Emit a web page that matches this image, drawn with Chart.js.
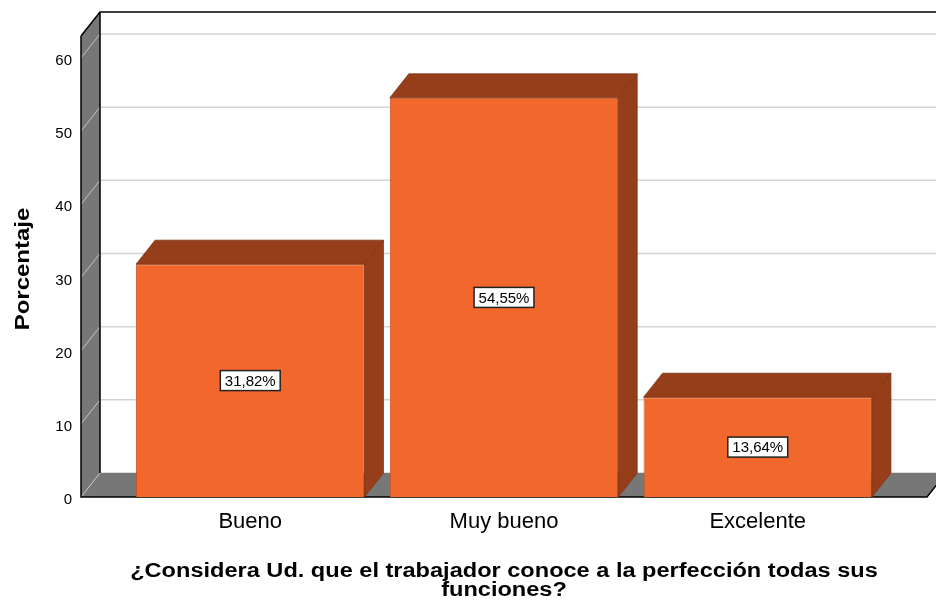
<!DOCTYPE html>
<html>
<head>
<meta charset="utf-8">
<script src="https://cdn.jsdelivr.net/npm/chart.js@4.4.1/dist/chart.umd.min.js"></script>
<style>
  body { margin: 0; background: #fff; }
  #wrap { width: 936px; height: 604px; }
</style>
</head>
<body>
<div id="wrap"><canvas id="chart" width="936" height="604"></canvas></div>
<script>
const categories = ["Bueno", "Muy bueno", "Excelente"];
const percentages = [31.82, 54.55, 13.64];
const yTicks = [0, 10, 20, 30, 40, 50, 60];
const xTitle = ["¿Considera Ud. que el trabajador conoce a la perfección todas sus", "funciones?"];
const yTitle = "Porcentaje";

const FONT = "'Liberation Sans', Arial, sans-serif";
const DX = 19, DY = -24; // depth of the 3D box

const box3d = {
  id: "box3d",
  beforeDatasetsDraw(chart) {
    const { ctx, chartArea: a, scales } = chart;
    const L = a.left, R = a.right, T = a.top, B = a.bottom;
    ctx.save();
    // back wall grid
    ctx.strokeStyle = "#d3d3d3";
    ctx.lineWidth = 1.5;
    yTicks.forEach(v => {
      const yp = scales.y.getPixelForValue(v);
      ctx.beginPath();
      ctx.moveTo(L + DX, yp + DY);
      ctx.lineTo(R + DX + 20, yp + DY);
      ctx.stroke();
    });
    // left wall
    ctx.fillStyle = "#777777";
    ctx.beginPath();
    ctx.moveTo(L, B); ctx.lineTo(L + DX, B + DY); ctx.lineTo(L + DX, T + DY); ctx.lineTo(L, T);
    ctx.closePath(); ctx.fill();
    // floor
    ctx.beginPath();
    ctx.moveTo(L, B); ctx.lineTo(R, B); ctx.lineTo(R + DX, B + DY); ctx.lineTo(L + DX, B + DY);
    ctx.closePath(); ctx.fill();
    // grid on left wall
    ctx.strokeStyle = "#c4c4c4";
    ctx.lineWidth = 1;
    yTicks.forEach(v => {
      const yp = scales.y.getPixelForValue(v);
      ctx.beginPath();
      ctx.moveTo(L, yp);
      ctx.lineTo(L + DX, yp + DY);
      ctx.stroke();
    });
    // outlines
    ctx.strokeStyle = "#000";
    ctx.lineWidth = 1.5;
    ctx.beginPath();
    ctx.moveTo(L, T); ctx.lineTo(L, B); ctx.lineTo(R, B); ctx.lineTo(R + DX, B + DY);
    ctx.moveTo(L, T); ctx.lineTo(L + DX, T + DY); ctx.lineTo(R + DX + 20, T + DY);
    ctx.moveTo(L + DX, T + DY); ctx.lineTo(L + DX, B + DY);
    ctx.stroke();
    ctx.restore();
  },
  afterDatasetsDraw(chart) {
    const { ctx } = chart;
    const meta = chart.getDatasetMeta(0);
    ctx.save();
    meta.data.forEach((bar, i) => {
      const { x, y, base, width } = bar.getProps(["x", "y", "base", "width"], true);
      const l = x - width / 2, r = x + width / 2;
      ctx.fillStyle = "#963e19";
      ctx.strokeStyle = "#7c3314";
      ctx.lineWidth = 0.8;
      ctx.beginPath();
      ctx.moveTo(l, y); ctx.lineTo(l + DX, y + DY); ctx.lineTo(r + DX, y + DY); ctx.lineTo(r, y);
      ctx.closePath(); ctx.fill(); ctx.stroke();
      ctx.beginPath();
      ctx.moveTo(r, y); ctx.lineTo(r + DX, y + DY); ctx.lineTo(r + DX, base + DY); ctx.lineTo(r, base);
      ctx.closePath(); ctx.fill(); ctx.stroke();

      const txt = percentages[i].toFixed(2).replace(".", ",") + "%";
      ctx.font = "15px " + FONT;
      const w = ctx.measureText(txt).width + 9, h = 20;
      const cy = (y + base) / 2;
      ctx.fillStyle = "#fff";
      ctx.fillRect(x - w / 2, cy - h / 2, w, h);
      ctx.strokeStyle = "#222";
      ctx.lineWidth = 1.5;
      ctx.strokeRect(x - w / 2, cy - h / 2, w, h);
      ctx.fillStyle = "#000";
      ctx.textAlign = "center";
      ctx.textBaseline = "middle";
      ctx.fillText(txt, x, cy + 1);
    });
    ctx.restore();
  },
  afterDraw(chart) {
    // axis titles, slightly stretched along the text like the original export
    const { ctx, chartArea: a } = chart;
    const cx = (a.left + a.right) / 2;
    ctx.save();
    ctx.fillStyle = "#000";
    ctx.font = "bold 20px " + FONT;
    ctx.textAlign = "center";
    ctx.textBaseline = "alphabetic";
    [577, 596].forEach((by, k) => {
      ctx.save();
      ctx.translate(cx, by);
      ctx.scale(1.178, 1);
      ctx.fillText(xTitle[k], 0, 0);
      ctx.restore();
    });
    ctx.translate(29, 269);
    ctx.rotate(-Math.PI / 2);
    ctx.scale(1.2, 1);
    ctx.fillText(yTitle, 0, 0);
    ctx.restore();
  }
};

new Chart(document.getElementById("chart"), {
  type: "bar",
  data: {
    datasets: [{
      data: categories.map((c, i) => ({ x: i, y: percentages[i] })),
      backgroundColor: "#f2672b",
      borderColor: "#c9531f",
      borderWidth: 1,
      categoryPercentage: 1,
      barPercentage: 0.9
    }]
  },
  plugins: [box3d],
  options: {
    responsive: false,
    animation: false,
    layout: { padding: { top: 36, right: 9, left: 0, bottom: 0 } },
    plugins: { legend: { display: false }, tooltip: { enabled: false } },
    scales: {
      x: {
        type: "linear",
        min: -0.667,
        max: 2.667,
        offset: false,
        grid: { display: false, drawTicks: false },
        border: { display: false },
        afterBuildTicks: s => { s.ticks = categories.map((c, i) => ({ value: i })); },
        afterFit: s => { s.height = 107; },
        ticks: {
          callback: v => categories[v],
          font: { family: FONT, size: 22 },
          color: "#000",
          padding: 12,
          maxRotation: 0
        },
        title: { display: false }
      },
      y: {
        min: 0,
        max: 63,
        grid: { display: false, drawTicks: false },
        border: { display: false },
        afterBuildTicks: s => { s.ticks = yTicks.map(v => ({ value: v })); },
        afterFit: s => { s.width = 81; },
        ticks: {
          font: { family: FONT, size: 15 },
          color: "#000",
          padding: 9,
          labelOffset: 3
        },
        title: { display: false }
      }
    }
  }
});
</script>
</body>
</html>
